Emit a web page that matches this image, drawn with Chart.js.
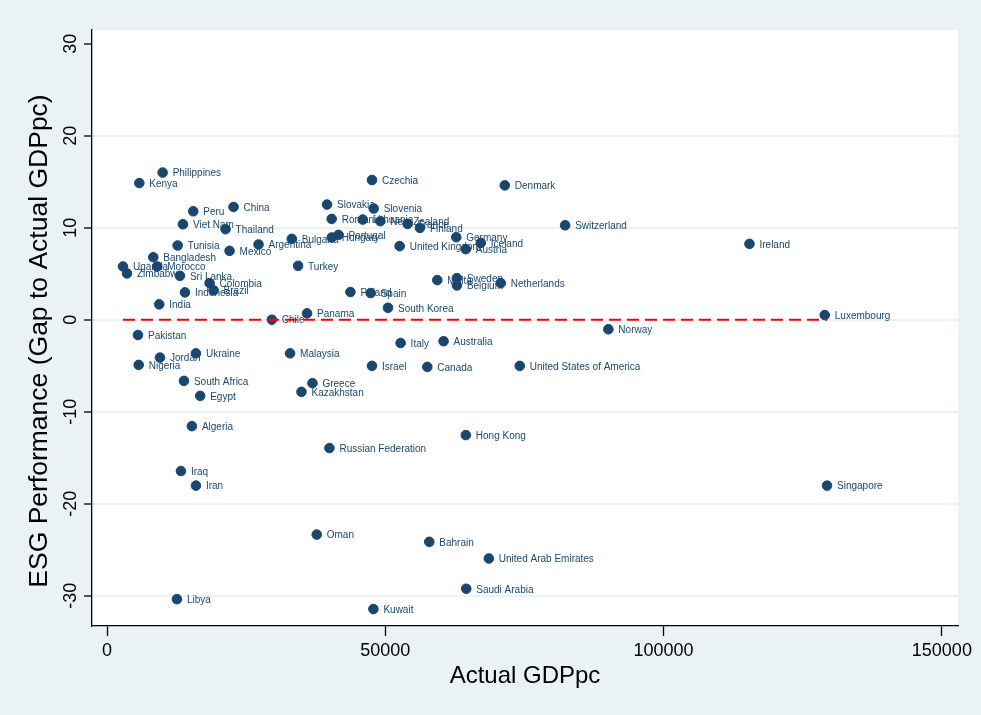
<!DOCTYPE html>
<html>
<head>
<meta charset="utf-8">
<script src="https://cdn.jsdelivr.net/npm/chart.js@4"></script>
<style>
  html, body { margin: 0; padding: 0; background: #eaf2f3; }
  #wrap { width: 981px; height: 715px; }
</style>
</head>
<body>
<div id="wrap"><canvas id="esgChart" width="981" height="715"></canvas></div>
<script>
// Country labels, GDP per capita (x) and ESG gap (y)
const countries = [
    'Philippines', 'Kenya', 'Peru', 'China', 'Viet Nam', 'Thailand', 'Argentina', 'Bulgaria',
    'Tunisia', 'Mexico', 'Bangladesh', 'Uganda', 'Zimbabwe', 'Morocco', 'Sri Lanka', 'Turkey',
    'Colombia', 'Brazil', 'Indonesia', 'India', 'Chile', 'Panama', 'Pakistan', 'Jordan',
    'Ukraine', 'Nigeria', 'Malaysia', 'South Africa', 'Egypt', 'Greece', 'Kazakhstan', 'Algeria',
    'Iraq', 'Iran', 'Libya', 'Oman', 'Czechia', 'Denmark', 'Slovakia', 'Slovenia',
    'Romania', 'Lithuania', 'New Zealand', 'France', 'Finland', 'Portugal', 'Hungary', 'United Kingdom',
    'Germany', 'Iceland', 'Austria', 'Malta', 'Sweden', 'Belgium', 'Netherlands', 'Poland',
    'Spain', 'South Korea', 'Italy', 'Australia', 'Israel', 'Canada', 'United States of America', 'Hong Kong',
    'Russian Federation', 'Bahrain', 'United Arab Emirates', 'Saudi Arabia', 'Kuwait', 'Switzerland', 'Ireland', 'Luxembourg',
    'Norway', 'Singapore'
];
const gdp = [
    9990, 5800, 15490, 22730, 13640, 21300, 27220, 33200,
    12690, 22020, 8310, 2870, 3590, 9030, 13100, 34330,
    18430, 19150, 14000, 9380, 29610, 35940, 5560, 9510,
    15970, 5690, 32890, 13820, 16740, 36910, 34940, 15250,
    13280, 15970, 12560, 37680, 47610, 71470, 39530, 47910,
    40370, 45940, 49110, 54010, 56220, 41580, 40370, 52580,
    62750, 67160, 64470, 59340, 62860, 62860, 70750, 43730,
    47370, 50480, 52750, 60470, 47610, 57550, 74160, 64470,
    39960, 57900, 68600, 64540, 47860, 82310, 115430, 128960,
    90080, 129370
];
const esg = [
    16.0, 14.86, 11.79, 12.26, 10.38, 9.84, 8.18, 8.79,
    8.07, 7.49, 6.80, 5.79, 5.03, 5.79, 4.77, 5.86,
    3.98, 3.19, 2.97, 1.67, 0.0, 0.69, -1.66, -4.12,
    -3.65, -4.91, -3.65, -6.65, -8.28, -6.90, -7.84, -11.57,
    -16.45, -18.04, -30.38, -23.36, 15.19, 14.61, 12.52, 12.09,
    10.96, 10.89, 10.71, 10.42, 9.98, 9.22, 8.94, 8.00,
    8.97, 8.35, 7.67, 4.31, 4.52, 3.73, 3.98, 3.01,
    2.90, 1.30, -2.53, -2.34, -5.02, -5.13, -5.02, -12.54,
    -13.95, -24.15, -25.96, -29.25, -31.46, 10.27, 8.25, 0.51,
    -1.04, -18.04
];
const xTicks = [0, 50000, 100000, 150000];
const yTicks = [-30, -20, -10, 0, 10, 20, 30];

const NAVY = '#1a476f';
const PANEL = '#eaf2f3';
const FONT = "'Liberation Sans Narrow', 'Liberation Sans', Arial, sans-serif";

const points = gdp.map((g, i) => ({ x: g, y: esg[i] }));
const zeroLine = [
    { x: Math.min(...gdp), y: 0 },
    { x: Math.max(...gdp), y: 0 }
];

// white plot region on the bluish-gray graph region
const plotBackground = {
    id: 'plotBackground',
    beforeDraw(chart) {
        const { ctx, chartArea: a } = chart;
        ctx.save();
        ctx.fillStyle = PANEL;
        ctx.fillRect(0, 0, chart.width, chart.height);
        ctx.fillStyle = '#ffffff';
        ctx.fillRect(a.left, a.top, a.right - a.left, a.bottom - a.top);
        ctx.restore();
    }
};

// country names to the right of each marker
const pointLabels = {
    id: 'pointLabels',
    afterDatasetDraw(chart, args) {
        if (args.index !== 0) return;
        const { ctx } = chart;
        ctx.save();
        ctx.font = '10px ' + FONT;
        ctx.fillStyle = NAVY;
        ctx.textBaseline = 'middle';
        ctx.textAlign = 'left';
        args.meta.data.forEach((pt, i) => {
            ctx.fillText(countries[i], pt.x + 10, pt.y + 1);
        });
        ctx.restore();
    }
};

// Stata-style vertical y tick labels and y title
const yAxisText = {
    id: 'yAxisText',
    afterDraw(chart) {
        const { ctx } = chart;
        const scale = chart.scales.y;
        ctx.save();
        ctx.fillStyle = '#000000';
        ctx.textAlign = 'center';
        ctx.textBaseline = 'middle';
        ctx.font = '18px ' + FONT;
        scale.ticks.forEach(t => {
            const py = scale.getPixelForValue(t.value);
            ctx.save();
            ctx.translate(71, py);
            ctx.rotate(-Math.PI / 2);
            ctx.fillText(String(t.value), 0, 0);
            ctx.restore();
        });
        // title
        ctx.font = '26.5px ' + FONT;
        ctx.translate(40, 341);
        ctx.rotate(-Math.PI / 2);
        ctx.fillText('ESG Performance (Gap to Actual GDPpc)', 0, 0);
        ctx.restore();
    }
};

new Chart(document.getElementById('esgChart').getContext('2d'), {
    data: {
        datasets: [{
            type: 'scatter',
            label: 'Countries',
            data: points,
            backgroundColor: NAVY,
            borderColor: NAVY,
            pointRadius: 4.8,
            pointHoverRadius: 4.8,
            order: 2
        }, {
            type: 'line',
            label: 'Zero',
            data: zeroLine,
            borderColor: '#ff0000',
            borderWidth: 2,
            borderDash: [12, 6],
            pointRadius: 0,
            fill: false,
            order: 1
        }]
    },
    options: {
        responsive: false,
        animation: false,
        devicePixelRatio: 1,
        layout: { padding: { top: 30, right: 23, left: 0, bottom: 0 } },
        plugins: {
            legend: { display: false },
            tooltip: { enabled: false }
        },
        scales: {
            x: {
                type: 'linear',
                min: -2700,
                max: 152900,
                afterBuildTicks: (s) => { s.ticks = xTicks.map(v => ({ value: v })); },
                afterFit: (s) => { s.height = 89; },
                grid: {
                    drawOnChartArea: false,
                    drawTicks: true,
                    tickLength: 10,
                    tickColor: '#000000',
                    tickWidth: 1.3
                },
                border: { display: true, color: '#000000', width: 1.3 },
                ticks: {
                    color: '#000000',
                    font: { family: FONT, size: 18 },
                    padding: 4,
                    maxRotation: 0,
                    minRotation: 0,
                    callback: (v) => String(v)
                },
                title: {
                    display: true,
                    text: 'Actual GDPpc',
                    color: '#000000',
                    font: { family: FONT, size: 24 },
                    padding: { top: 0, bottom: 24 }
                }
            },
            y: {
                type: 'linear',
                min: -33.3,
                max: 31.5,
                afterBuildTicks: (s) => { s.ticks = yTicks.map(v => ({ value: v })); },
                afterFit: (s) => { s.width = 92; },
                grid: {
                    color: (c) => (c.tick && c.tick.value === 30) ? 'rgba(0,0,0,0)' : PANEL,
                    lineWidth: 2,
                    drawTicks: true,
                    tickLength: 8,
                    tickColor: '#000000',
                    tickWidth: 1.3
                },
                border: { display: true, color: '#000000', width: 1.3 },
                ticks: { display: false },
                title: { display: false }
            }
        }
    },
    plugins: [plotBackground, pointLabels, yAxisText]
});
</script>
</body>
</html>
